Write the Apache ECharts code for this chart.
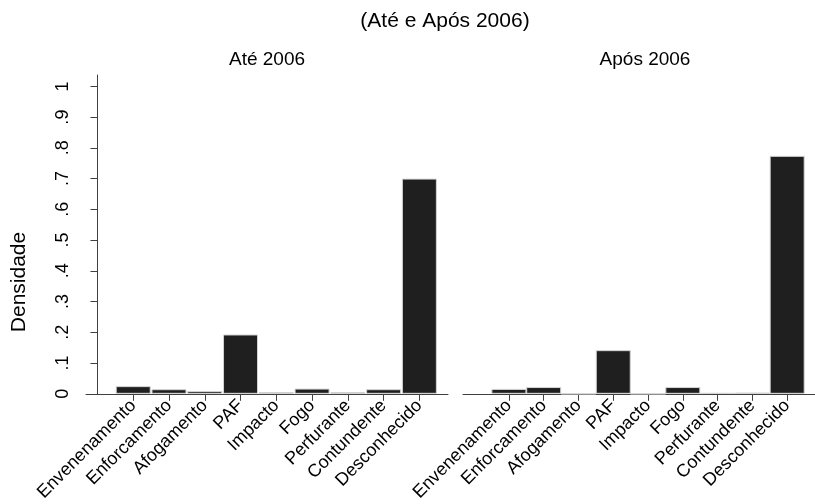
<!DOCTYPE html>
<html>
<head>
<meta charset="utf-8">
<script src="https://cdn.jsdelivr.net/npm/echarts@6/dist/echarts.min.js"></script>
<style>
  html, body { margin: 0; padding: 0; background: #fff; }
  #chart { width: 815px; height: 504px; }
</style>
</head>
<body>
<div id="chart"></div>
<script>
const categories = ['Envenenamento', 'Enforcamento', 'Afogamento', 'PAF', 'Impacto',
  'Fogo', 'Perfurante', 'Contundente', 'Desconhecido'];
const ateValues = [0.025, 0.015, 0.009, 0.193, 0.005, 0.017, 0.005, 0.015, 0.70];
const aposValues = [0.016, 0.022, 0, 0.142, 0, 0.022, 0.003, 0.004, 0.774];
const yTicks = [0, 0.1, 0.2, 0.3, 0.4, 0.5, 0.6, 0.7, 0.8, 0.9, 1];
const panelTitles = ['Até 2006', 'Após 2006'];

const font = 'Liberation Sans, Arial, Helvetica, sans-serif';
const axisColor = '#404040';
const catPos = categories.map((c, i) => i + 1);

function toPairs(values) {
  return values.map((v, i) => [i + 1, v]);
}

function yLabel(v) {
  if (v === 0) return '0';
  if (v === 1) return '1';
  return '.' + Math.round(v * 10);
}

function label(text, x, y, size, rotation) {
  return {
    type: 'text', x: x, y: y, rotation: rotation || 0,
    style: {
      text: text, fontSize: size, fontFamily: font, fill: '#000',
      align: 'center', verticalAlign: 'middle'
    }
  };
}

const chart = echarts.init(document.getElementById('chart'));

const xAxisBase = {
  type: 'value',
  min: -0.32,
  max: 9.8,
  axisLine: { show: true, onZero: false, lineStyle: { color: axisColor, width: 1 } },
  axisTick: { show: true, length: 7, customValues: catPos, lineStyle: { color: axisColor } },
  axisLabel: {
    customValues: catPos,
    rotate: 45,
    margin: 9,
    fontSize: 18,
    color: '#000',
    fontFamily: font,
    formatter: v => categories[Math.round(v) - 1] || ''
  },
  splitLine: { show: false }
};

const yAxisBase = {
  type: 'value',
  min: 0,
  max: 1.037
};

const barStyle = {
  color: '#1f1f1f',
  borderColor: '#d4d4d4',
  borderWidth: 1
};

chart.setOption({
  backgroundColor: '#fff',
  animation: false,
  graphic: [
    label('(Até e Após 2006)', 445, 21, 21),
    label(panelTitles[0], 267, 60, 19),
    label(panelTitles[1], 645, 60, 19),
    label('Densidade', 19, 282, 21, Math.PI / 2)
  ],
  grid: [
    { left: 86, top: 75, width: 362, height: 319.5, containLabel: false },
    { left: 463, top: 75, width: 362, height: 319.5, containLabel: false }
  ],
  xAxis: [
    Object.assign({ gridIndex: 0 }, xAxisBase),
    Object.assign({ gridIndex: 1 }, xAxisBase)
  ],
  yAxis: [
    Object.assign({ gridIndex: 0 }, yAxisBase, {
      axisLine: { show: true, lineStyle: { color: axisColor, width: 1 } },
      axisTick: { show: true, length: 7, customValues: yTicks, lineStyle: { color: axisColor } },
      axisLabel: {
        customValues: yTicks,
        rotate: 90,
        margin: 14,
        fontSize: 18,
        color: '#000',
        fontFamily: font,
        formatter: yLabel
      },
      splitLine: { show: false }
    }),
    Object.assign({ gridIndex: 1 }, yAxisBase, {
      axisLine: { show: false },
      axisTick: { show: false },
      axisLabel: { show: false },
      splitLine: { show: false }
    })
  ],
  series: [
    {
      type: 'bar', xAxisIndex: 0, yAxisIndex: 0,
      barWidth: 35, itemStyle: barStyle,
      data: toPairs(ateValues)
    },
    {
      type: 'bar', xAxisIndex: 1, yAxisIndex: 1,
      barWidth: 35, itemStyle: barStyle,
      data: toPairs(aposValues)
    }
  ]
});
</script>
</body>
</html>
